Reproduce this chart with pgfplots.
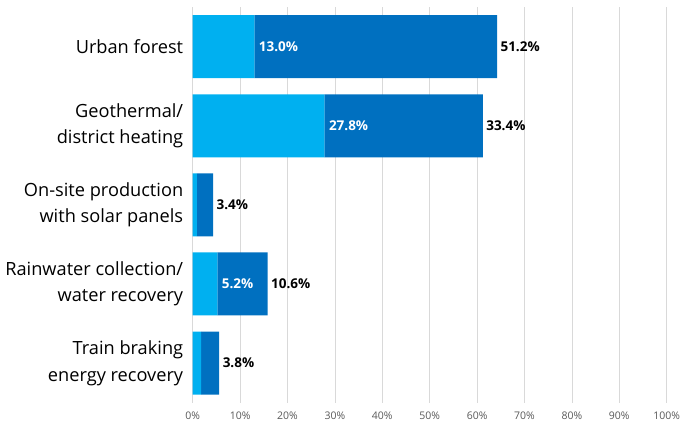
\documentclass[border=0pt]{standalone}
\usepackage{fontspec}
\setmainfont{Open Sans}
\usepackage{pgfplots}
\pgfplotsset{compat=1.18}
\definecolor{lightbar}{HTML}{00B0F0}
\definecolor{darkbar}{HTML}{0070C0}
\definecolor{gridgray}{HTML}{D9D9D9}
\definecolor{ticktext}{HTML}{595959}

\begin{document}
\begin{tikzpicture}
\useasboundingbox (0pt,0pt) rectangle (685pt,428pt);
\begin{axis}[
    at={(192.7pt,25.4pt)}, anchor=south west,
    scale only axis, width=474pt, height=395.5pt,
    xbar stacked, bar width=63pt,
    xmin=0, xmax=100,
    ymin=-0.5, ymax=4.5, y dir=reverse,
    xtick={0,10,...,100},
    xticklabels={0\%,10\%,20\%,30\%,40\%,50\%,60\%,70\%,80\%,90\%,100\%},
    xticklabel style={font=\fontsize{10.5}{12}\selectfont, text=ticktext, yshift=-6pt},
    ytick={0,1,2,3,4},
    yticklabels={Urban forest,{Geothermal/\\district heating},{On-site production\\with solar panels},{Rainwater collection/\\water recovery},{Train braking\\energy recovery}},
    yticklabel style={align=right, font=\fontsize{18.2}{26.5}\selectfont, text=black, xshift=-6pt},
    axis line style={draw=none},
    major tick length=0pt,
    xmajorgrids, grid style={gridgray, line width=0.7pt},
    point meta=explicit symbolic,
    visualization depends on={rawx \as \rawx},
    nodes near coords,
]
% nodes sit at the middle of each segment: shift them to its right end
\addplot[fill=lightbar, draw=none,
    every node near coord/.style={anchor=west, xshift={2.37pt*\rawx+1pt}, text=white, font=\fontsize{13.5}{15}\selectfont\bfseries}]
    coordinates {(13.0,0) [13.0\%] (27.8,1) [27.8\%] (0.9,2) [] (5.2,3) [5.2\%] (1.8,4) []};
\addplot[fill=darkbar, draw=none,
    every node near coord/.style={anchor=west, xshift={2.37pt*\rawx}, text=black, font=\fontsize{13.5}{15}\selectfont\bfseries}]
    coordinates {(51.2,0) [51.2\%] (33.4,1) [33.4\%] (3.4,2) [3.4\%] (10.6,3) [10.6\%] (3.8,4) [3.8\%]};
\end{axis}
\end{tikzpicture}
\end{document}
